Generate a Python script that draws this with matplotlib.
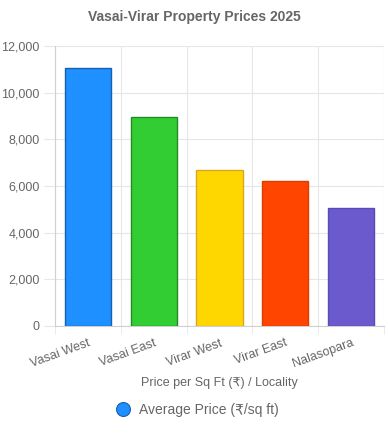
import numpy as np
import matplotlib.pyplot as plt
from matplotlib.ticker import FuncFormatter, MultipleLocator
from matplotlib.lines import Line2D

plt.rcParams['font.family'] = ['Liberation Sans', 'DejaVu Sans']

localities = ["Vasai West", "Vasai East", "Virar West", "Virar East", "Nalasopara"]
prices = [11050, 8950, 6700, 6200, 5050]
bar_colors = ["#1e90ff", "#32cd32", "#ffd700", "#ff4500", "#6a5acd"]
edge_colors = ["#1560b0", "#228b22", "#daa520", "#e03c00", "#5a4ab8"]

grid_c = "#e6e6e6"
text_c = "#666666"

fig = plt.figure(figsize=(3.88, 4.33), dpi=100)
ax = fig.add_axes([55/388, 1 - 326/433, 329/388, 280/433])

x = np.arange(len(localities))
ax.bar(x, prices, width=0.7, color=bar_colors, edgecolor=edge_colors, linewidth=1, zorder=3)

ax.set_xlim(-0.5, len(localities) - 0.5)
ax.set_ylim(0, 12000)
ax.yaxis.set_major_locator(MultipleLocator(2000))
ax.yaxis.set_major_formatter(FuncFormatter(lambda v, p: f"{int(v):,}"))

ax.set_xticks(x)
ax.set_xticklabels(localities, rotation=20, ha="right", rotation_mode="anchor")
ax.set_xticks(np.arange(len(localities) + 1) - 0.5, minor=True)
ax.tick_params(axis="x", which="major", length=0, pad=8, labelsize=9, labelcolor=text_c)
ax.tick_params(axis="x", which="minor", length=6, color=grid_c)
ax.tick_params(axis="y", length=8, color=grid_c, labelsize=9, labelcolor=text_c, pad=3)

ax.grid(axis="y", color=grid_c, linewidth=0.8, zorder=0)
ax.grid(axis="x", which="minor", color=grid_c, linewidth=0.8, zorder=0)
ax.grid(axis="x", which="major", visible=False)

for side in ["top", "right"]:
    ax.spines[side].set_visible(False)
for side in ["left", "bottom"]:
    ax.spines[side].set_color("#d0d0d0")
    ax.spines[side].set_linewidth(0.8)

ax.set_xlabel("Price per Sq Ft (₹) / Locality", color=text_c, fontsize=9, labelpad=5)

fig.text(0.5, 1 - 17/433, "Vasai-Virar Property Prices 2025", ha="center", va="center",
         fontsize=10, fontweight="bold", color=text_c)

handle = Line2D([], [], marker="o", linestyle="none", markersize=10, markeredgewidth=0.8,
                markerfacecolor="#1e90ff", markeredgecolor="#1560b0")
fig.legend([handle], ["Average Price (₹/sq ft)"], loc="center", bbox_to_anchor=(0.5, 1 - 410/433),
           frameon=False, fontsize=10, labelcolor=text_c, handletextpad=0.1)

fig.savefig("out.png", dpi=100)
